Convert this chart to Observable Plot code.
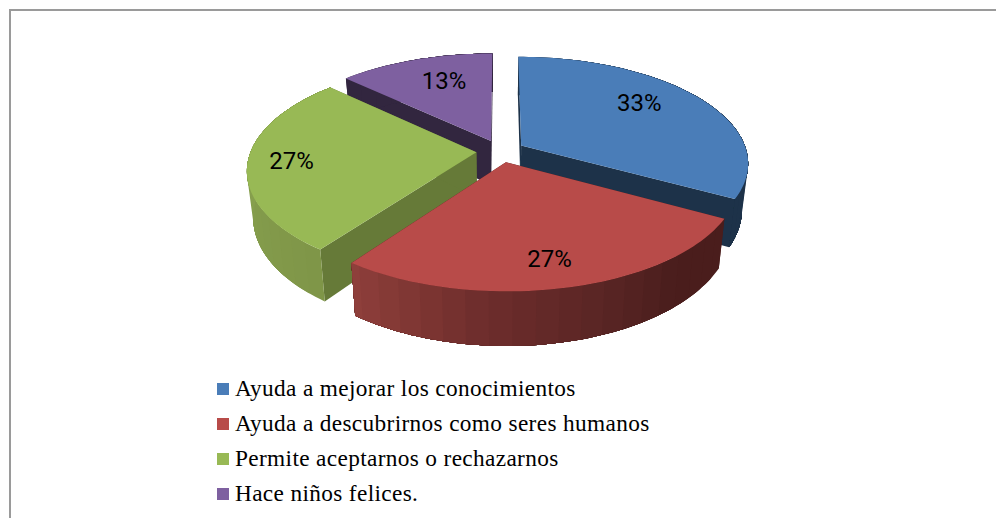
<!DOCTYPE html>
<html>
<head>
<meta charset="utf-8">
<script src="https://cdn.jsdelivr.net/npm/d3@7"></script>
<script src="https://cdn.jsdelivr.net/npm/@observablehq/plot@0.6"></script>
<style>
  html, body { margin: 0; padding: 0; background: #fff; overflow: hidden; }
  #page { position: relative; width: 996px; height: 518px; overflow: hidden; }
  #frame { position: absolute; left: 9px; top: 9px; width: 1200px; height: 600px; box-sizing: border-box; border: 2px solid #9a9a9a; }
  #chart { position: absolute; left: 0; top: 0; }
  #chart svg { display: block; }
  #legend { position: absolute; left: 217px; top: 371px; font-family: "Liberation Serif", serif; font-size: 23.3px; color: #000; }
  .row { height: 35px; line-height: 35px; white-space: nowrap; position: relative; padding-left: 18px; letter-spacing: .35px; }
  .sw { position: absolute; left: 0; top: 12px; width: 12px; height: 12px; }
</style>
</head>
<body>
<div id="page">
  <div id="frame"></div>
  <div id="chart"></div>
  <div id="legend"></div>
</div>
<script>
const categories = ["Ayuda a mejorar los conocimientos", "Ayuda a descubrirnos como seres humanos", "Permite aceptarnos o rechazarnos", "Hace niños felices."];
const percents = [33, 27, 27, 13];
const topColors = ["#4a7db8", "#b84b49", "#98b955", "#7e60a0"];
const wallColors = ["#1d3249", "#4a1d1c", "#667a38", "#32263f"];
const outerRamps = [
  [[0, "#1d3249"], [360, "#1d3249"]],
  [[118, "#4a1d1c"], [140, "#4a1d1c"], [165, "#5e2726"], [185, "#6e2d2c"], [200, "#7f3633"], [216, "#8e3f3b"]],
  [[216, "#7f9548"], [270, "#87a04e"], [314, "#87a04e"]],
  [[0, "#32263f"], [360, "#32263f"]]
];
// label placement around each slice: angle shift (deg) from slice middle, fraction of radius
const labelShift = [-6.8, 0.8, -0.8, 3.3];
const labelRadius = [0.72, 0.8, 0.81, 0.69];

// projection of the tilted pie
const W = 996, H = 371, cx = 500, cy = 150.6, R = 225.5, A = 104.5, p = 0.16, explode = 0.1073, depth = 45, shrink = 0.975;
const rad = d => d * Math.PI / 180;
function proj(X, Y, lower) {
  const s = 1 / (1 + p * Y);
  let x = cx + R * X * s, y = cy - A * Y * s;
  if (lower) { x = cx + (x - cx) * shrink; y += depth * s; }
  return {x, y};
}

const total = d3.sum(percents);
let acc = 0;
const slices = percents.map((v, i) => {
  const a0 = acc / total * 360; acc += v;
  const a1 = acc / total * 360, mid = (a0 + a1) / 2;
  return {i, a0, a1, mid, ox: explode * Math.sin(rad(mid)), oy: explode * Math.cos(rad(mid))};
});
const world = (s, deg, r) => [s.ox + r * Math.sin(rad(deg)), s.oy + r * Math.cos(rad(deg))];
const rampColor = (ramp, a) => {
  for (let k = 1; k < ramp.length; k++) {
    if (a <= ramp[k][0]) {
      const t = (a - ramp[k-1][0]) / (ramp[k][0] - ramp[k-1][0]);
      return d3.interpolateRgb(ramp[k-1][1], ramp[k][1])(Math.max(0, t));
    }
  }
  return ramp[ramp.length - 1][1];
};

// polygons, back to front
const polys = [];
let pid = 0;
const add = (pts, fill) => { const id = pid++; pts.forEach(q => polys.push({id, x: q.x, y: q.y, fill})); };
const order = [3, 0, 2, 1];
const bandStep = 5;
for (const i of order) {
  const s = slices[i];
  const n = Math.max(2, Math.round((s.a1 - s.a0) / 1.5));
  const angles = d3.range(n + 1).map(k => s.a0 + (s.a1 - s.a0) * k / n);
  const apex = [s.ox, s.oy];
  // radial walls
  for (const a of [s.a0, s.a1]) {
    const e = world(s, a, 1);
    add([proj(...apex), proj(...e), proj(...e, true), proj(...apex, true)], wallColors[i]);
  }
  // outer wall: each band runs on to the end of the slice, the next one paints over it
  const bands = d3.range(s.a0, s.a1, bandStep);
  for (const b of bands) {
    const arc = angles.filter(a => a >= b);
    const up = [b, ...arc].map(a => proj(...world(s, a, 1)));
    const down = [b, ...arc].reverse().map(a => proj(...world(s, a, 1), true));
    add([...up, ...down], rampColor(outerRamps[i], b + bandStep / 2));
  }
  // top face
  add([proj(...apex), ...angles.map(a => proj(...world(s, a, 1)))], topColors[i]);
}

const labels = slices.map(s => {
  const q = proj(...world(s, s.mid + labelShift[s.i], labelRadius[s.i]));
  return {x: q.x, y: q.y, text: percents[s.i] + "%"};
});

const plot = Plot.plot({
  width: W, height: H,
  margin: 0,
  x: {domain: [0, W], range: [0, W], axis: null},
  y: {domain: [0, H], range: [0, H], axis: null},
  marks: [
    Plot.line(polys, {x: "x", y: "y", z: "id", fill: "fill", stroke: null, curve: "linear-closed"}),
    Plot.text(labels, {x: "x", y: "y", text: "text", fontSize: 24, fontFamily: "Roboto", fill: "#000"})
  ]
});
plot.style.background = "transparent";
document.getElementById("chart").appendChild(plot);

const legend = document.getElementById("legend");
categories.forEach((c, i) => {
  const row = document.createElement("div");
  row.className = "row";
  const sw = document.createElement("span");
  sw.className = "sw";
  sw.style.background = topColors[i];
  row.appendChild(sw);
  row.appendChild(document.createTextNode(c));
  legend.appendChild(row);
});
</script>
</body>
</html>
